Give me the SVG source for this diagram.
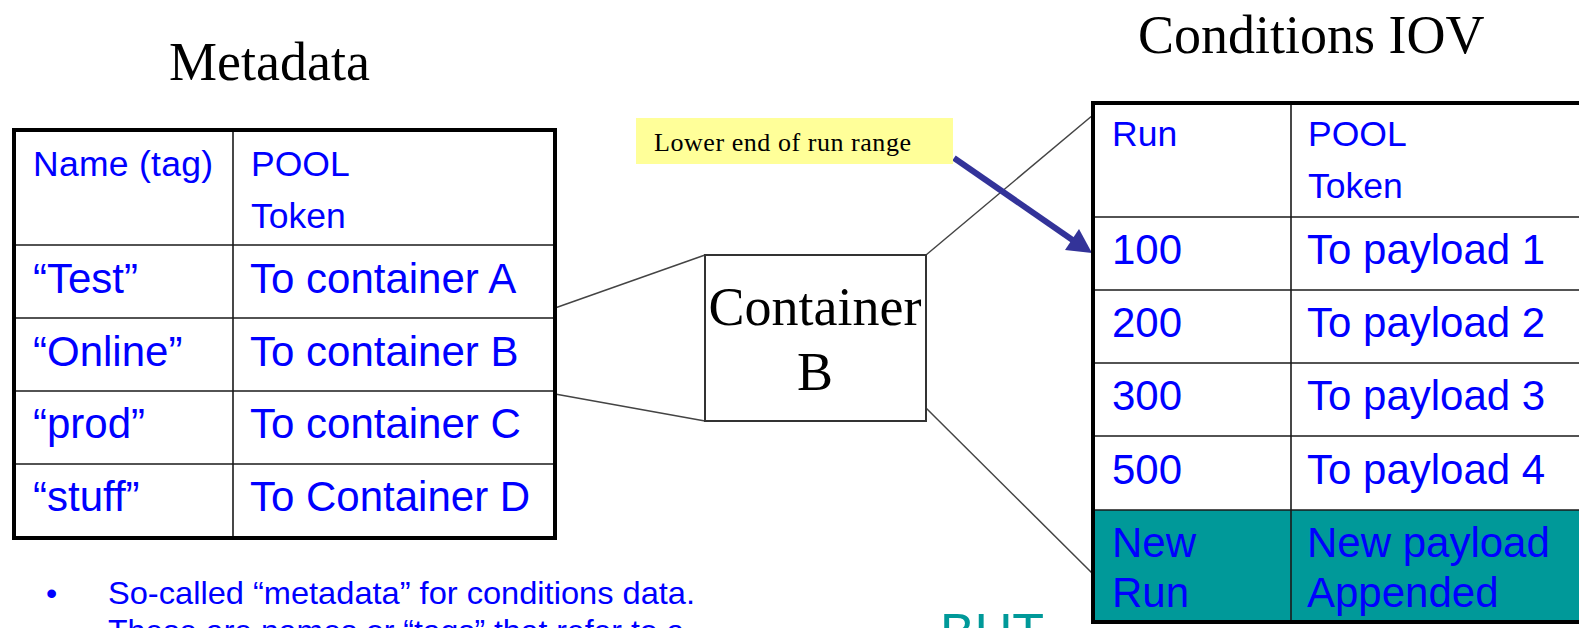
<svg xmlns="http://www.w3.org/2000/svg" width="1579" height="628" viewBox="0 0 1579 628">
  <style>
    .title { font-family: "Liberation Serif", "Times New Roman", serif; font-size: 54px; fill: #000; }
    .serif { font-family: "Liberation Serif", "Times New Roman", serif; fill: #000; }
    .cell { font-family: "Liberation Sans", Arial, sans-serif; font-size: 42px; fill: #0000ff; }
    .head { font-family: "Liberation Sans", Arial, sans-serif; font-size: 35.5px; fill: #0000ff; }
    .outer { fill: none; stroke: #000; stroke-width: 4; }
    .grid { stroke: #1a1a1a; stroke-width: 1.6; fill: none; }
    .link { stroke: #444; stroke-width: 1.5; fill: none; }
    .bullet { font-family: "Liberation Sans", Arial, sans-serif; font-size: 32px; fill: #0000ff; }
  </style>

  <rect width="1579" height="628" fill="#fff"/>

  <!-- headings -->
  <text class="title" x="169" y="80">Metadata</text>
  <text class="title" x="1138" y="53">Conditions IOV</text>

  <!-- connectors: tag table to container, container to IOV table, callout arrow -->
  <g id="connectors">
    <line class="link" x1="555" y1="308" x2="705" y2="255"/>
    <line class="link" x1="555" y1="394" x2="705" y2="421"/>
    <line class="link" x1="926" y1="255" x2="1093" y2="115"/>
    <line class="link" x1="926" y1="408" x2="1093" y2="574"/>
    <line x1="954" y1="158" x2="1074" y2="241" stroke="#333399" stroke-width="6"/>
    <path d="M1092,253 L1065,250 L1079,229 z" fill="#333399"/>
  </g>

  <!-- metadata (tag) table -->
  <g id="metadata-table">
    <rect x="14" y="130" width="541" height="408" fill="#fff"/>
    <line class="grid" x1="233" y1="130" x2="233" y2="538"/>
    <line class="grid" x1="14" y1="245" x2="555" y2="245"/>
    <line class="grid" x1="14" y1="318" x2="555" y2="318"/>
    <line class="grid" x1="14" y1="391" x2="555" y2="391"/>
    <line class="grid" x1="14" y1="464" x2="555" y2="464"/>
    <rect class="outer" x="14" y="130" width="541" height="408"/>
    <text class="head" x="33" y="176" textLength="180">Name (tag)</text>
    <text class="head" x="251" y="176">POOL</text>
    <text class="head" x="251" y="228">Token</text>
    <text class="cell" x="33" y="293">“Test”</text>
    <text class="cell" x="250" y="293">To container A</text>
    <text class="cell" x="33" y="366">“Online”</text>
    <text class="cell" x="250" y="366">To container B</text>
    <text class="cell" x="33" y="438">“prod”</text>
    <text class="cell" x="250" y="438">To container C</text>
    <text class="cell" x="33" y="511">“stuff”</text>
    <text class="cell" x="250" y="511">To Container D</text>
  </g>

  <!-- container box -->
  <g id="container-b">
    <rect x="705" y="255" width="221" height="166" fill="#fff" stroke="#333" stroke-width="2"/>
    <text class="serif" x="815" y="325" font-size="54" text-anchor="middle">Container</text>
    <text class="serif" x="815" y="390" font-size="54" text-anchor="middle">B</text>
  </g>

  <!-- callout -->
  <g id="callout">
    <rect x="636" y="118" width="317" height="46" fill="#ffff99"/>
    <text class="serif" x="654" y="151" font-size="26" textLength="257">Lower end of run range</text>
  </g>

  <!-- IOV table -->
  <g id="iov-table">
    <rect x="1093" y="103" width="500" height="519" fill="#fff"/>
    <rect x="1093" y="510" width="500" height="112" fill="#009999"/>
    <line class="grid" x1="1291" y1="103" x2="1291" y2="622"/>
    <line class="grid" x1="1093" y1="217" x2="1593" y2="217"/>
    <line class="grid" x1="1093" y1="290" x2="1593" y2="290"/>
    <line class="grid" x1="1093" y1="363" x2="1593" y2="363"/>
    <line class="grid" x1="1093" y1="436" x2="1593" y2="436"/>
    <line class="grid" x1="1093" y1="510" x2="1593" y2="510"/>
    <rect class="outer" x="1093" y="103" width="500" height="519"/>
    <text class="head" x="1112" y="146">Run</text>
    <text class="head" x="1308" y="146">POOL</text>
    <text class="head" x="1308" y="198">Token</text>
    <text class="cell" x="1112" y="264">100</text>
    <text class="cell" x="1307" y="264">To payload 1</text>
    <text class="cell" x="1112" y="337">200</text>
    <text class="cell" x="1307" y="337">To payload 2</text>
    <text class="cell" x="1112" y="410">300</text>
    <text class="cell" x="1307" y="410">To payload 3</text>
    <text class="cell" x="1112" y="484">500</text>
    <text class="cell" x="1307" y="484">To payload 4</text>
    <text class="cell" x="1112" y="557">New</text>
    <text class="cell" x="1307" y="557">New payload</text>
    <text class="cell" x="1112" y="607">Run</text>
    <text class="cell" x="1307" y="607">Appended</text>
  </g>

  <!-- notes below -->
  <g id="notes">
    <text class="bullet" x="46" y="604">•</text>
    <text class="bullet" x="108" y="604" textLength="587" lengthAdjust="spacingAndGlyphs">So-called “metadata”  for conditions data.</text>
    <text class="bullet" x="108" y="642">These are names or “tags” that refer to a</text>
    <text x="940" y="650" font-family="Liberation Sans, Arial, sans-serif" font-size="52" fill="#009999">BUT</text>
  </g>
</svg>
